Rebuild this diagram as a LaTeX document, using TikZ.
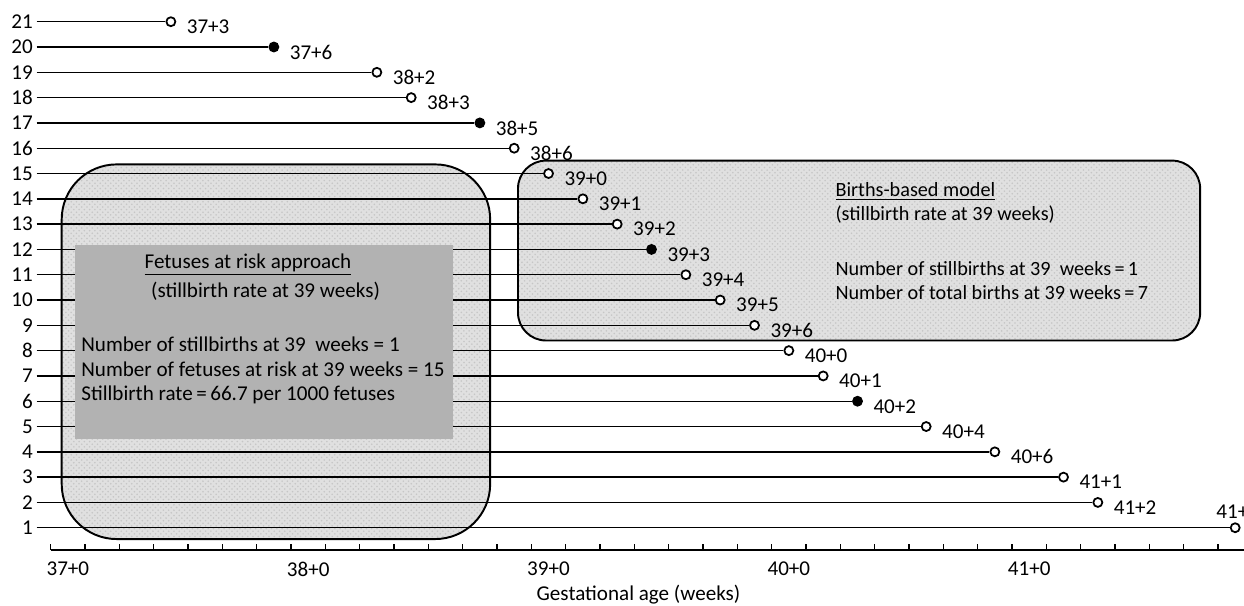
\documentclass[tikz,border=0pt]{standalone}
\usepackage{fontspec}
\setmainfont{Carlito}
\usetikzlibrary{positioning, patterns}

\tikzset{
  base/.style={font=\fontsize{12}{14}\selectfont},
  small/.style={font=\fontsize{11.5}{13.5}\selectfont},
  rowlab/.style={base, inner sep=2pt},
  dot/.style={circle, draw, line width=1pt, minimum size=0.18cm, inner sep=0pt},
  daylab/.style={base, inner sep=1pt},
  stripe/.style={line width=0.8pt},
  bigbox/.style={preaction={fill=gray!24}, pattern=crosshatch dots, pattern color=gray!45, draw, line width=1.1pt},
}

\begin{document}
\begin{tikzpicture}[x=0.6866cm, y=0.506cm]
  \clip (-1.477,-2.055) rectangle (34.757,21.858);

  % shaded boxes
  \draw[bigbox, rounded corners=1.1cm] (0.32,0.553) rectangle (12.80,15.36);
  \draw[bigbox, rounded corners=0.56cm] (13.61,8.40) rectangle (33.48,15.51);

  % one line per pregnancy, ending at the day of birth
  \foreach \r/\d/\lab/\f in {21/3/37+3/white, 20/6/37+6/black, 19/9/38+2/white,
      18/10/38+3/white, 17/12/38+5/black, 16/13/38+6/white, 15/14/39+0/white,
      14/15/39+1/white, 13/16/39+2/white, 12/17/39+3/black, 11/18/39+4/white,
      10/19/39+5/white, 9/20/39+6/white, 8/21/40+0/white, 7/22/40+1/white,
      6/23/40+2/black, 5/25/40+4/white, 4/27/40+6/white, 3/29/41+1/white,
      2/30/41+2/white} {
    \node[rowlab, anchor=east] (r\r) at (-0.408,\r) {\r};
    \node[dot, fill=\f] (d\r) at (\d+0.5,\r) {};
    \draw[stripe] (r\r) -- (d\r);
    \node[daylab, right=0.17cm of d\r, yshift=-0.1cm] (t\r) {\lab};
  }
  \node[rowlab, anchor=east] (r1) at (-0.408,1) {1};
  \node[dot, fill=white] (d1) at (34.5,1) {};
  \draw[stripe] (r1) -- (d1);
  \node[daylab, above=0.03cm of d1, xshift=0.05cm] (t1) {41+6};

  % fetuses at risk panel
  \fill[gray!60] (0.708,4.51) rectangle (11.72,12.17);
  \node[base] (head1) at (5.746,11.38) {\underline{Fetuses at risk approach}};
  \node[base] (sub1) at (6.257,10.33) {(stillbirth rate at 39 weeks)};
  \node[base, anchor=west, inner sep=0pt] (n1a) at (0.883,8.26) {Number of stillbirths at 39~ weeks = 1};
  \node[base, anchor=west, inner sep=0pt] (n1b) at (0.883,7.26) {Number of fetuses at risk at 39 weeks = 15};
  \node[base, anchor=west, inner sep=0pt] (n1c) at (0.883,6.245) {Stillbirth rate\,=\,66.7 per 1000 fetuses};

  % births-based panel
  \node[small, anchor=west, inner sep=0pt] (head2) at (22.85,14.30) {\underline{Births-based model}};
  \node[small, anchor=west, inner sep=0pt] (sub2) at (22.85,13.38) {(stillbirth rate at 39 weeks)};
  \node[small, anchor=west, inner sep=0pt] (n2a) at (22.85,11.26) {Number of stillbirths at 39~ weeks\,=\,1};
  \node[small, anchor=west, inner sep=0pt] (n2b) at (22.85,10.30) {Number of total births at 39 weeks\,=\,7};

  % time axis
  \draw[line width=1.1pt] (0,0.12) -- (35,0.12);
  \foreach \t in {0,...,34}
    \draw[line width=0.9pt] (\t,0.12) -- (\t,0.357);
  \foreach \w in {37,...,41}
    \node[base] (wk\w) at ({(\w-37)*7+0.5},-0.632) {\w+0};
  \node[base] (xlab) at (17.12,-1.66) {Gestational age (weeks)};
\end{tikzpicture}
\end{document}
